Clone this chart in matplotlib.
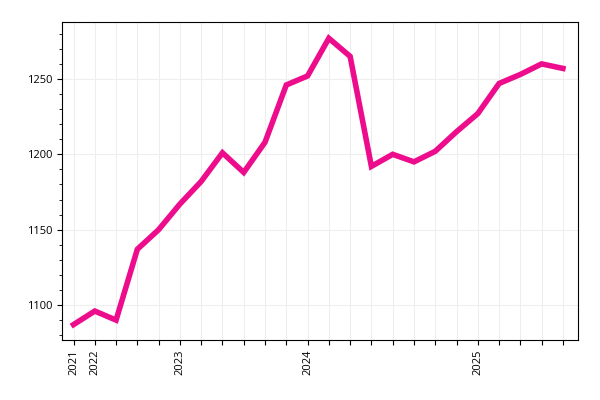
import matplotlib
matplotlib.use("Agg")
import matplotlib.pyplot as plt
from matplotlib.ticker import MultipleLocator

values = [1087, 1096, 1090, 1137, 1150, 1167, 1182, 1201, 1188, 1208, 1246, 1252,
          1277, 1265, 1192, 1200, 1195, 1202, 1215, 1227, 1247, 1253, 1260, 1257]
labels = {0: "2021", 1: "2022", 5: "2023", 11: "2024", 19: "2025"}

plt.rcParams['font.family'] = ['Open Sans', 'DejaVu Sans']
fig = plt.figure(figsize=(6, 4), dpi=100)
ax = fig.add_axes([0.103, 0.15, 0.86, 0.795])
x = list(range(len(values)))
ax.plot(x, values, color="#ec0c8c", lw=4, solid_joinstyle="miter", zorder=3)
ax.set_xticks(x)
ax.set_xticklabels([labels.get(i, "") for i in x], rotation=90, fontsize=8)
ax.set_xlim(-0.55, 23.7)
ax.set_ylim(1076.8, 1287.8)
ax.yaxis.set_major_locator(MultipleLocator(50))
ax.yaxis.set_minor_locator(MultipleLocator(10))
ax.tick_params(axis='y', labelsize=8)
ax.grid(True, color="#eeeeee", lw=0.8)
for s in ax.spines.values():
    s.set_linewidth(0.8)
fig.savefig("out.png")
